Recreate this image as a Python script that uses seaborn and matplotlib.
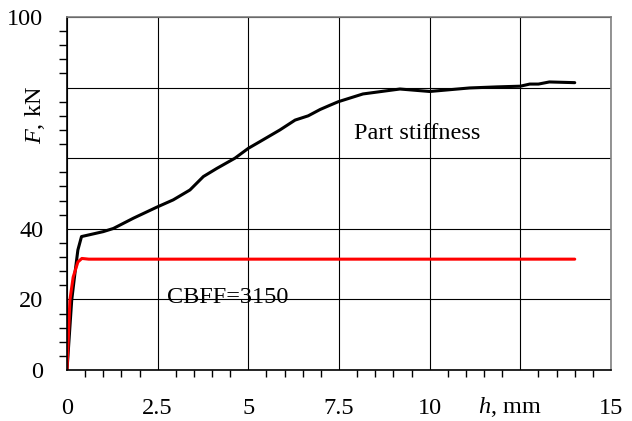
import matplotlib
matplotlib.use("Agg")
import matplotlib.pyplot as plt
import seaborn as sns
import pandas as pd
from matplotlib.ticker import MultipleLocator

sns.set_theme(style="white")
plt.rcParams['font.family'] = ['Liberation Serif', 'DejaVu Serif']
plt.rcParams['mathtext.fontset'] = 'custom'
plt.rcParams['mathtext.it'] = 'Liberation Serif:italic'
plt.rcParams['mathtext.rm'] = 'Liberation Serif'

# Data
h_part = [0, 0.13, 0.22, 0.3, 0.40, 1.0, 1.28, 1.83, 2.47, 2.93, 3.39, 3.76, 4.13, 4.63,
          5.0, 5.32, 5.87, 6.29, 6.65, 6.98, 7.25, 7.48, 8.16, 9.18, 10.0, 11.1, 11.85,
          12.5, 12.76, 13.0, 13.3, 14.0]
F_part = [0, 19.8, 27.5, 34.0, 37.8, 39.2, 40.1, 43.0, 46.1, 48.2, 51.0, 54.8, 57.1, 60.0,
          62.8, 64.7, 68.0, 70.8, 72.0, 73.8, 75.0, 76.0, 78.2, 79.6, 78.9, 79.9, 80.2,
          80.4, 81.0, 81.0, 81.6, 81.4]
h_cbff = [0, 0.08, 0.17, 0.3, 0.41, 0.6, 14.0]
F_cbff = [0, 19.8, 26.3, 30.6, 31.6, 31.4, 31.4]

xticks = [0, 2.5, 5, 7.5, 10, 12.5, 15]
xticklabels = ["0", "2.5", "5", "7.5", "10", "", "15"]
yticks = [0, 20, 40, 60, 80, 100]
yticklabels = ["0", "20", "40", "", "", "100"]

df_part = pd.DataFrame({"h": h_part, "F": F_part})
df_cbff = pd.DataFrame({"h": h_cbff, "F": F_cbff})

fig = plt.figure(figsize=(6.32, 4.21), dpi=100)
ax = fig.add_axes([67/632, 51/421, 544/632, 353/421])

sns.lineplot(data=df_part, x="h", y="F", ax=ax, color="black", linewidth=2.2, sort=False)
sns.lineplot(data=df_cbff, x="h", y="F", ax=ax, color="#ff0000", linewidth=2.2, sort=False)

ax.set_xlim(0, 15)
ax.set_ylim(0, 100)
ax.set_xticks(xticks)
ax.set_xticklabels(xticklabels)
ax.set_yticks(yticks)
ax.set_yticklabels(yticklabels)
ax.xaxis.set_minor_locator(MultipleLocator(0.5))
ax.yaxis.set_minor_locator(MultipleLocator(4))

ax.grid(True, which="major", color="black", linewidth=0.8)
ax.set_axisbelow(True)
ax.tick_params(which="both", direction="out", color="black", labelsize=17.5, colors="black")
ax.tick_params(axis="y", which="major", length=7, width=1, pad=10)
ax.tick_params(axis="y", which="minor", length=6, width=1, left=True)
ax.tick_params(axis="x", which="major", length=6, width=1, pad=14)
ax.tick_params(axis="x", which="minor", length=5, width=1, bottom=True)

for s in ["left", "bottom"]:
    ax.spines[s].set_color("black")
    ax.spines[s].set_linewidth(1.2)
for s in ["top", "right"]:
    ax.spines[s].set_color("#808080")
    ax.spines[s].set_linewidth(1.2)

ax.set_xlabel("")
ax.set_ylabel("")
fig.text(35/632, 1 - 115/421, "$F$, kN", rotation=90, ha="center", va="center",
         fontsize=17.5, color="black")
fig.text(510/632, 1 - 407/421, "$h$, mm", ha="center", va="center",
         fontsize=17.5, color="black")

ax.text(7.9, 67, "Part stiffness", fontsize=17.5, color="black", ha="left", va="center")
ax.text(2.75, 20.5, "CBFF=3150", fontsize=17.5, color="black", ha="left", va="center")

fig.savefig("out.png", dpi=100)
